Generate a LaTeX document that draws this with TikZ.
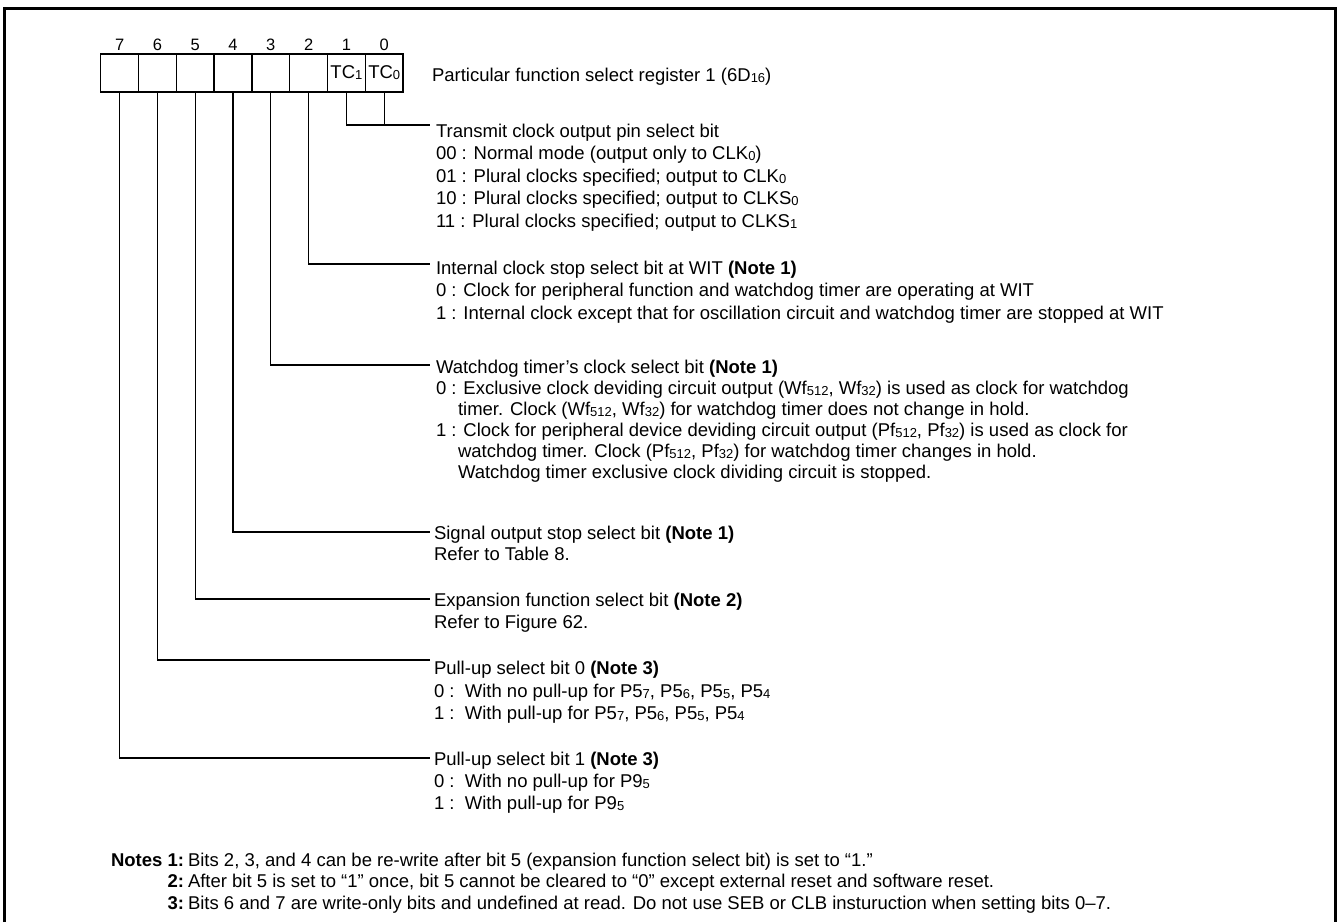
\documentclass[tikz,border=0pt]{standalone}
\usepackage{fontspec}
\setmainfont{Liberation Sans}
\newcommand\sbs[1]{\raisebox{-1pt}{\fontsize{13}{13}\selectfont #1}}
\begin{document}
\begin{tikzpicture}[x=1pt,y=-1pt,
  font=\fontsize{18.5}{22}\selectfont,
  txt/.style={anchor=base west, inner sep=0pt, outer sep=0pt},
  cell/.style={draw, line width=1.3pt, minimum width=37.8pt, minimum height=38pt, inner sep=0pt, outer sep=0pt},
  bitno/.style={font=\fontsize{16.5}{18}\selectfont, inner sep=0pt},
  lead/.style={line width=1.3pt},
  frame/.style={line width=3pt}]
\useasboundingbox (0,0) rectangle (1338,922);
\draw[frame] (4,922) -- (4,8) -- (1335,8) -- (1335,922);

% register cells
\foreach \b [count=\i from 0] in {7,6,5,4,3,2,1,0} {
  \node[cell] (c\b) at ({100.7+37.8*(\i+0.5)},73) {};
  \node[bitno] (n\b) at ({100.7+37.8*(\i+0.5)},45) {\b};
}
\node[inner sep=0pt] (tc1) at (c1) {TC\sbs{1}};
\node[inner sep=0pt] (tc0) at (c0) {TC\sbs{0}};
\node[txt] (reg) at (432,81.5) {Particular function select register 1 (6D\sbs{16})};

% end points of leader lines
\coordinate (e10) at (430,125);
\coordinate (e2) at (430,264);
\coordinate (e3) at (430,365);
\coordinate (e4) at (430,532);
\coordinate (e5) at (430,599);
\coordinate (e6) at (430,660);
\coordinate (e7) at (430,758);

\draw[lead] (c1.south) |- (e10);
\draw[lead] (c0.south) -- (c0.south |- e10);
\draw[lead] (c2.south) |- (e2);
\draw[lead] (c3.south) |- (e3);
\draw[lead] (c4.south) |- (e4);
\draw[lead] (c5.south) |- (e5);
\draw[lead] (c6.south) |- (e6);
\draw[lead] (c7.south) |- (e7);

% bits 1,0
\node[txt] (t10) at (436,137) {Transmit clock output pin select bit};
\node[txt] (t10a) at (436,159.5) {00 : Normal mode (output only to CLK\sbs{0})};
\node[txt] (t10b) at (436,182) {01 : Plural clocks specified; output to CLK\sbs{0}};
\node[txt] (t10c) at (436,204.5) {10 : Plural clocks specified; output to CLKS\sbs{0}};
\node[txt] (t10d) at (436,227) {11 : Plural clocks specified; output to CLKS\sbs{1}};

% bit 2
\node[txt] (t2) at (436,274) {Internal clock stop select bit at WIT \textbf{(Note 1)}};
\node[txt] (t2a) at (436,296.5) {0 : Clock for peripheral function and watchdog timer are operating at WIT};
\node[txt] (t2b) at (436,319) {1 : Internal clock except that for oscillation circuit and watchdog timer are stopped at WIT};

% bit 3
\node[txt] (t3) at (436,373) {Watchdog timer’s clock select bit \textbf{(Note 1)}};
\node[txt] (t3a) at (436,394) {0 : Exclusive clock deviding circuit output (Wf\sbs{512}, Wf\sbs{32}) is used as clock for watchdog};
\node[txt] (t3b) at (458,415) {timer. Clock (Wf\sbs{512}, Wf\sbs{32}) for watchdog timer does not change in hold.};
\node[txt] (t3c) at (436,436) {1 : Clock for peripheral device deviding circuit output (Pf\sbs{512}, Pf\sbs{32}) is used as clock for};
\node[txt] (t3d) at (458,457) {watchdog timer. Clock (Pf\sbs{512}, Pf\sbs{32}) for watchdog timer changes in hold.};
\node[txt] (t3e) at (458,478) {Watchdog timer exclusive clock dividing circuit is stopped.};

% bit 4
\node[txt] (t4) at (434,539) {Signal output stop select bit \textbf{(Note 1)}};
\node[txt] (t4a) at (434,560) {Refer to Table 8.};

% bit 5
\node[txt] (t5) at (434,606) {Expansion function select bit \textbf{(Note 2)}};
\node[txt] (t5a) at (434,628) {Refer to Figure 62.};

% bit 6
\node[txt] (t6) at (434,674.5) {Pull-up select bit 0 \textbf{(Note 3)}};
\node[txt] (t6a) at (434,697.5) {0 :\ \ With no pull-up for P5\sbs{7}, P5\sbs{6}, P5\sbs{5}, P5\sbs{4}};
\node[txt] (t6b) at (434,719.5) {1 :\ \ With pull-up for P5\sbs{7}, P5\sbs{6}, P5\sbs{5}, P5\sbs{4}};

% bit 7
\node[txt] (t7) at (434,765) {Pull-up select bit 1 \textbf{(Note 3)}};
\node[txt] (t7a) at (434,787) {0 :\ \ With no pull-up for P9\sbs{5}};
\node[txt] (t7b) at (434,809) {1 :\ \ With pull-up for P9\sbs{5}};

% notes
\node[txt, anchor=base east] (k1) at (184,866) {\textbf{Notes 1:}};
\node[txt] (m1) at (188,866) {Bits 2, 3, and 4 can be re-write after bit 5 (expansion function select bit) is set to “1.”};
\node[txt, anchor=base east] (k2) at (184,887) {\textbf{2:}};
\node[txt] (m2) at (188,887) {After bit 5 is set to “1” once, bit 5 cannot be cleared to “0” except external reset and software reset.};
\node[txt, anchor=base east] (k3) at (184,909) {\textbf{3:}};
\node[txt] (m3) at (188,909) {Bits 6 and 7 are write-only bits and undefined at read. Do not use SEB or CLB insturuction when setting bits 0–7.};
\end{tikzpicture}
\end{document}
